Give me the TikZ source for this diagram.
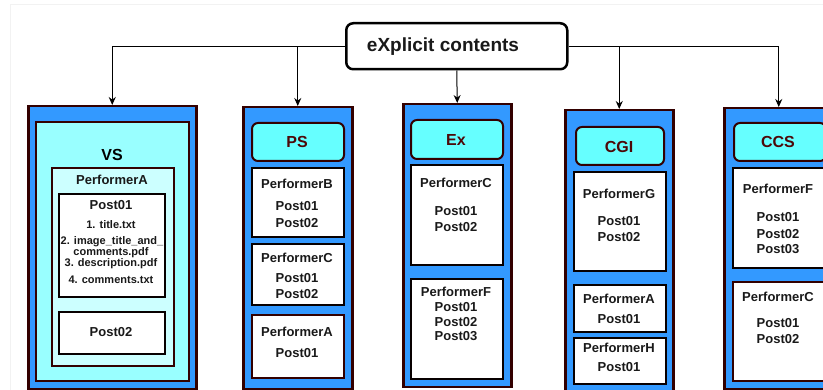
\documentclass[tikz,border=0pt]{standalone}
\usepackage{fontspec}
\setmainfont{Liberation Sans}
\usetikzlibrary{arrows.meta}
\definecolor{blueA}{HTML}{3399FF}
\definecolor{cyanL}{HTML}{99FFFF}
\definecolor{cyanLL}{HTML}{CCFFFF}
\definecolor{cyanH}{HTML}{66FFFF}
\definecolor{dkbrown}{HTML}{330000}
\definecolor{txbrown}{HTML}{4D0808}
\definecolor{faint}{HTML}{F2F2F2}
\tikzset{
  outerbox/.style={draw=dkbrown, line width=2.5pt, fill=blueA, anchor=north west, inner sep=0pt},
  innerbox/.style={draw=dkbrown, line width=2pt, fill=cyanL, anchor=north west, inner sep=0pt},
  perfbox/.style={draw=dkbrown, line width=2pt, fill=cyanLL, anchor=north west, inner sep=0pt},
  whitebox/.style={draw=black!85!dkbrown, line width=2pt, fill=white, anchor=north west, inner sep=0pt},
  headbox/.style={draw=dkbrown, line width=2pt, fill=cyanH, rounded corners=6pt, anchor=north west, inner sep=0pt},
  topbox/.style={draw=black, line width=2.5pt, fill=white, rounded corners=7pt, anchor=north west, inner sep=0pt},
  t13/.style={inner sep=0pt, font=\fontsize{13}{15}\selectfont\bfseries, text=black!90},
  t11/.style={inner sep=0pt, font=\fontsize{11}{12}\selectfont\bfseries, text=black!90},
  t16/.style={inner sep=0pt, font=\fontsize{16}{18}\selectfont\bfseries, text=txbrown},
  t19/.style={inner sep=0pt, font=\fontsize{19}{22}\selectfont\bfseries, text=black!90},
  arr/.style={draw=black, line width=1pt, -{Stealth[length=8pt,width=7pt]}},
}
\begin{document}
\begin{tikzpicture}[x=1pt,y=-1pt]
\useasboundingbox (0,0) rectangle (823,390);
\clip (0,0) rectangle (823,390);
\draw[faint, line width=1pt] (10,400) -- (10,5) -- (830,5);

% top box
\node[topbox, minimum width=221pt, minimum height=46pt] (top) at (345,22) {};
\node[t19] (toptxt) at (443,47) {eXplicit contents};

% VS column
\node[outerbox, minimum width=168pt, minimum height=283pt] (vs) at (27,105) {};
\node[innerbox, minimum width=153pt, minimum height=259pt] (vsin) at (35,121) {};
\node[t16, text=black] (vst) at (112,155) {VS};
\node[perfbox, minimum width=122pt, minimum height=198pt] (vsA) at (51,167) {};
\node[t13] (vsAt) at (112,180) {PerformerA};
\node[whitebox, minimum width=106pt, minimum height=103pt] (vsp1) at (58,193) {};
\node[t13] (vsp1t) at (111,205) {Post01};
\node[t11] (vsl1) at (111,225) {1. title.txt};
\node[t11] (vsl2) at (112,242) {2. image\_title\_and\_};
\node[t11] (vsl2b) at (111,253) {comments.pdf};
\node[t11] (vsl3) at (111,264) {3. description.pdf};
\node[t11] (vsl4) at (111,280) {4. comments.txt};
\node[whitebox, minimum width=106pt, minimum height=42pt] (vsp2) at (58,311) {};
\node[t13] (vsp2t) at (111,332) {Post02};

% PS column
\node[outerbox, minimum width=109pt, minimum height=282pt] (ps) at (242,106) {};
\node[headbox, minimum width=92pt, minimum height=38pt] (psh) at (251,122) {};
\node[t16] (psht) at (297,142) {PS};
\node[whitebox, minimum width=92pt, minimum height=69pt] (psB) at (251,167) {};
\node[t13] (psB1) at (297,184) {PerformerB};
\node[t13] (psB2) at (297,206) {Post01};
\node[t13] (psB3) at (297,223) {Post02};
\node[whitebox, minimum width=92pt, minimum height=61pt] (psC) at (251,243) {};
\node[t13] (psC1) at (297,258) {PerformerC};
\node[t13] (psC2) at (297,278) {Post01};
\node[t13] (psC3) at (297,294) {Post02};
\node[whitebox, draw=dkbrown, minimum width=92pt, minimum height=63pt] (psA) at (251,314) {};
\node[t13] (psA1) at (297,332) {PerformerA};
\node[t13] (psA2) at (297,353) {Post01};

% Ex column
\node[outerbox, minimum width=108pt, minimum height=283pt] (ex) at (402,103) {};
\node[headbox, minimum width=92pt, minimum height=39pt] (exh) at (410,119) {};
\node[t16] (exht) at (456,140) {Ex};
\node[whitebox, minimum width=92pt, minimum height=100pt] (exC) at (410,164) {};
\node[t13] (exC1) at (456,183) {PerformerC};
\node[t13] (exC2) at (456,211) {Post01};
\node[t13] (exC3) at (456,227) {Post02};
\node[whitebox, minimum width=92pt, minimum height=100pt] (exF) at (410,278) {};
\node[t13] (exF1) at (456,292) {PerformerF};
\node[t13] (exF2) at (456,307) {Post01};
\node[t13] (exF3) at (456,322) {Post02};
\node[t13] (exF4) at (456,336) {Post03};

% CGI column
\node[outerbox, minimum width=108pt, minimum height=290pt] (cgi) at (564,109) {};
\node[headbox, minimum width=88pt, minimum height=38pt] (cgih) at (575,126) {};
\node[t16] (cgiht) at (619,147) {CGI};
\node[whitebox, minimum width=92pt, minimum height=99pt] (cgiG) at (573,171) {};
\node[t13] (cgiG1) at (619,194) {PerformerG};
\node[t13] (cgiG2) at (619,221) {Post01};
\node[t13] (cgiG3) at (619,237) {Post02};
\node[whitebox, minimum width=92pt, minimum height=47pt] (cgiA) at (573,284) {};
\node[t13] (cgiA1) at (619,299) {PerformerA};
\node[t13] (cgiA2) at (619,319) {Post01};
\node[whitebox, minimum width=92pt, minimum height=46pt] (cgiH) at (573,337) {};
\node[t13] (cgiH1) at (619,348) {PerformerH};
\node[t13] (cgiH2) at (619,367) {Post01};

% CCS column
\node[outerbox, minimum width=109pt, minimum height=281pt] (ccs) at (723,107) {};
\node[headbox, minimum width=92pt, minimum height=38pt] (ccsh) at (733,122) {};
\node[t16] (ccsht) at (778,142) {CCS};
\node[whitebox, minimum width=92pt, minimum height=100pt] (ccsF) at (732,167) {};
\node[t13] (ccsF1) at (778,189) {PerformerF};
\node[t13] (ccsF2) at (778,217) {Post01};
\node[t13] (ccsF3) at (778,234) {Post02};
\node[t13] (ccsF4) at (778,249) {Post03};
\node[whitebox, draw=dkbrown, minimum width=92pt, minimum height=99pt] (ccsC) at (732,281) {};
\node[t13] (ccsC1) at (778,297) {PerformerC};
\node[t13] (ccsC2) at (778,323) {Post01};
\node[t13] (ccsC3) at (778,339) {Post02};

% connectors
\draw[arr] (top.west) -| (vs.north);
\draw[arr] (top.west) -| (ps.north);
\draw[arr] (top.south) -- (ex.north);
\draw[arr] (top.east) -| (cgi.north);
\draw[arr] (top.east) -| (ccs.north);
\end{tikzpicture}
\end{document}
